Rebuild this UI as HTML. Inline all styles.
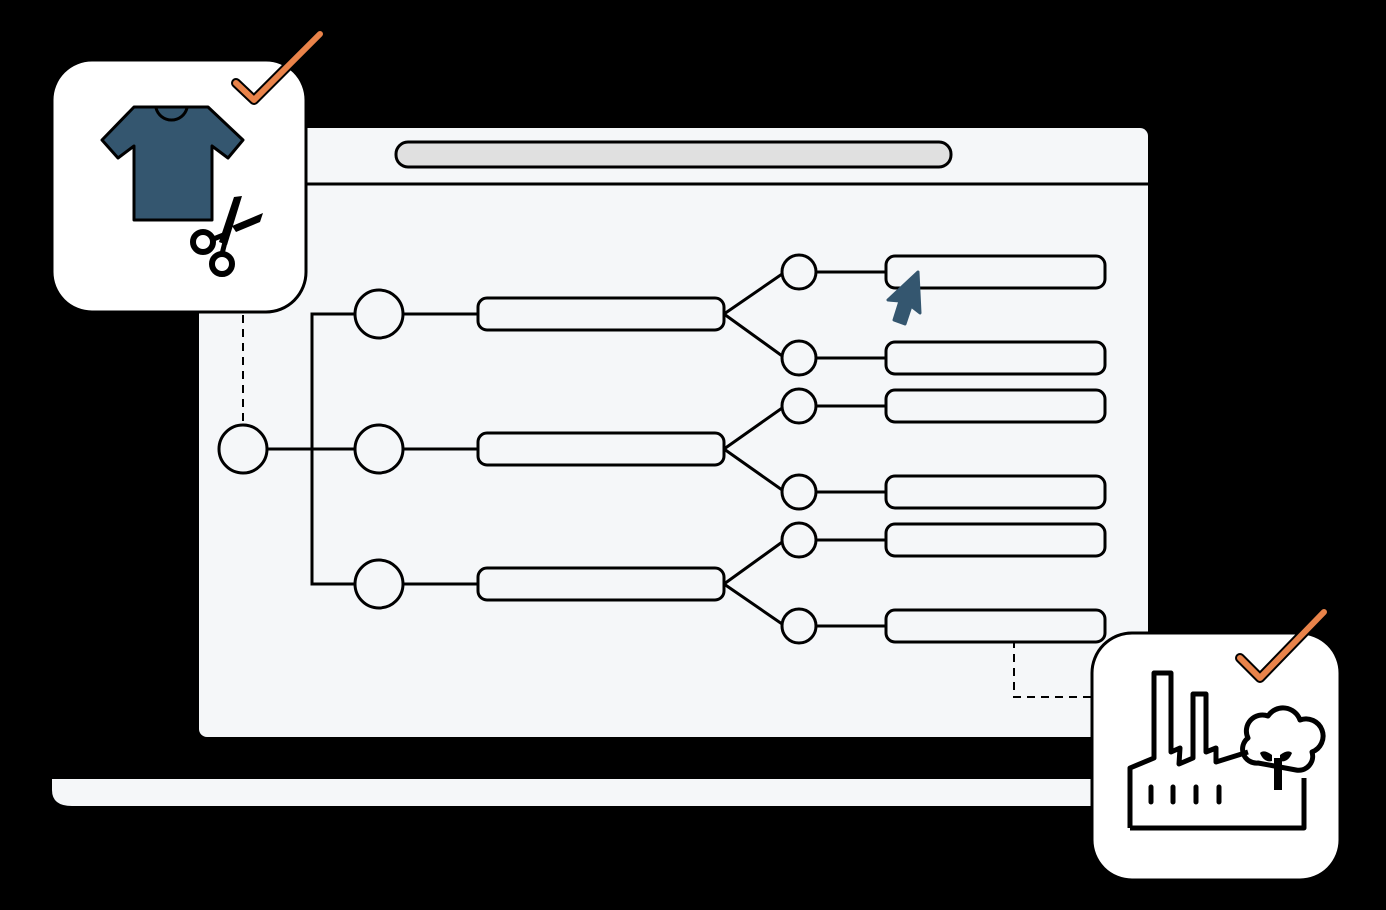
<!DOCTYPE html>
<html><head><style>body{margin:0;background:#000;}svg{display:block}</style></head><body>
<svg width="1386" height="910" viewBox="0 0 1386 910" xmlns="http://www.w3.org/2000/svg">
<rect width="1386" height="910" fill="#000"/>
<rect x="199" y="128" width="949" height="609" rx="8" fill="#f5f7f9"/>
<line x1="306" y1="184" x2="1148" y2="184" stroke="#000" stroke-width="3"/>
<rect x="396" y="142" width="555" height="25" rx="12" fill="#e0e0e0" stroke="#000" stroke-width="3"/>
<path d="M52 779 H1100 V806 H72 Q52 806 52 790 Z" fill="#f5f7f9"/>
<g stroke="#000" stroke-width="3" fill="none">
<line x1="267" y1="449" x2="355" y2="449"/>
<polyline points="355,314 312,314 312,584 355,584"/>
<line x1="403" y1="314" x2="478" y2="314"/>
<line x1="403" y1="449" x2="478" y2="449"/>
<line x1="403" y1="584" x2="478" y2="584"/>
<path d="M724 314 L785 272 M724 314 L785 358 M724 449 L785 406 M724 449 L785 492 M724 584 L785 540 M724 584 L785 626"/>
<path d="M816 272H886 M816 358H886 M816 406H886 M816 492H886 M816 540H886 M816 626H886"/>
<line x1="243" y1="315" x2="243" y2="425" stroke-dasharray="8,6" stroke-width="2"/>
<polyline points="1014,640 1014,697 1092,697" stroke-dasharray="8,6" stroke-width="2"/>
</g>
<g stroke="#000" stroke-width="3" fill="#f5f7f9">
<circle cx="243" cy="449" r="24"/>
<circle cx="379" cy="314" r="24"/><circle cx="379" cy="449" r="24"/><circle cx="379" cy="584" r="24"/>
<rect x="478" y="298" width="246" height="32" rx="9"/>
<rect x="478" y="433" width="246" height="32" rx="9"/>
<rect x="478" y="568" width="246" height="32" rx="9"/>
<circle cx="799" cy="272" r="17"/><circle cx="799" cy="358" r="17"/><circle cx="799" cy="406" r="17"/>
<circle cx="799" cy="492" r="17"/><circle cx="799" cy="540" r="17"/><circle cx="799" cy="626" r="17"/>
<rect x="886" y="256" width="219" height="32" rx="9"/>
<rect x="886" y="342" width="219" height="32" rx="9"/>
<rect x="886" y="390" width="219" height="32" rx="9"/>
<rect x="886" y="476" width="219" height="32" rx="9"/>
<rect x="886" y="524" width="219" height="32" rx="9"/>
<rect x="886" y="610" width="219" height="32" rx="9"/>
</g>
<path d="M918 272 L888 300 L900 301 L894 320 L905 324 L911 306 L920 313 Z" fill="#34566f" stroke="#34566f" stroke-width="3" stroke-linejoin="round"/>
<rect x="52" y="60" width="254" height="252" rx="40" fill="#fff" stroke="#000" stroke-width="3"/>
<path d="M236 83 L254 100 L320 34" stroke="#000" stroke-width="10" fill="none" stroke-linecap="round" stroke-linejoin="round"/>
<path d="M236 83 L254 100 L320 34" stroke="#e9834a" stroke-width="6" fill="none" stroke-linecap="round" stroke-linejoin="round"/>
<path d="M134 107 H208 L243 140 L228 158 L212 146 V220 H134 V146 L118 158 L102 140 Z" fill="#34566f" stroke="#000" stroke-width="3" stroke-linejoin="round"/>
<path d="M156 108 A16 16 0 0 0 187 108" fill="none" stroke="#000" stroke-width="3"/>
<g fill="#000"><path d="M242 196 L234 197 L219 242 L227 245 Z"/><path d="M263 213 L260 222 L236 232 L232 226 Z"/></g>
<circle cx="203" cy="242" r="10" fill="#fff" stroke="#000" stroke-width="6"/>
<circle cx="222" cy="264" r="10" fill="#fff" stroke="#000" stroke-width="6"/>
<path d="M211 240 L226 234 M222 254 L226 238" stroke="#000" stroke-width="5"/>
<rect x="1092" y="633" width="248" height="247" rx="40" fill="#fff" stroke="#000" stroke-width="3"/>
<path d="M1240 658 L1260 678 L1324 612" stroke="#000" stroke-width="10" fill="none" stroke-linecap="round" stroke-linejoin="round"/>
<path d="M1240 658 L1260 678 L1324 612" stroke="#e9834a" stroke-width="6" fill="none" stroke-linecap="round" stroke-linejoin="round"/>
<g fill="none" stroke="#000" stroke-width="5" stroke-linejoin="round">
<path d="M1130 828 V768 L1154 758 V673 H1171 V752 L1180 748 L1179 764 L1193 758 V694 H1206 V752 L1216 748 V762 L1248 752"/>
<path d="M1130 828 H1304 V778"/>
<path d="M1258 763 A14 14 0 0 1 1248 738 A16 16 0 0 1 1268 716 A18 18 0 0 1 1300 720 A16 16 0 0 1 1312 752 A14 14 0 0 1 1296 770 Z"/>
</g>
<path d="M1272 755 q-8 -6 -12 -2 q4 10 12 8 M1280 755 q8 -6 12 -2 q-4 10 -12 8" fill="#000"/>
<rect x="1274" y="758" width="8" height="32" fill="#000"/>
<g stroke="#000" stroke-width="5" stroke-linecap="round"><path d="M1151 787V802 M1173 787V802 M1196 787V802 M1219 787V802"/></g>
</svg>
</body></html>
